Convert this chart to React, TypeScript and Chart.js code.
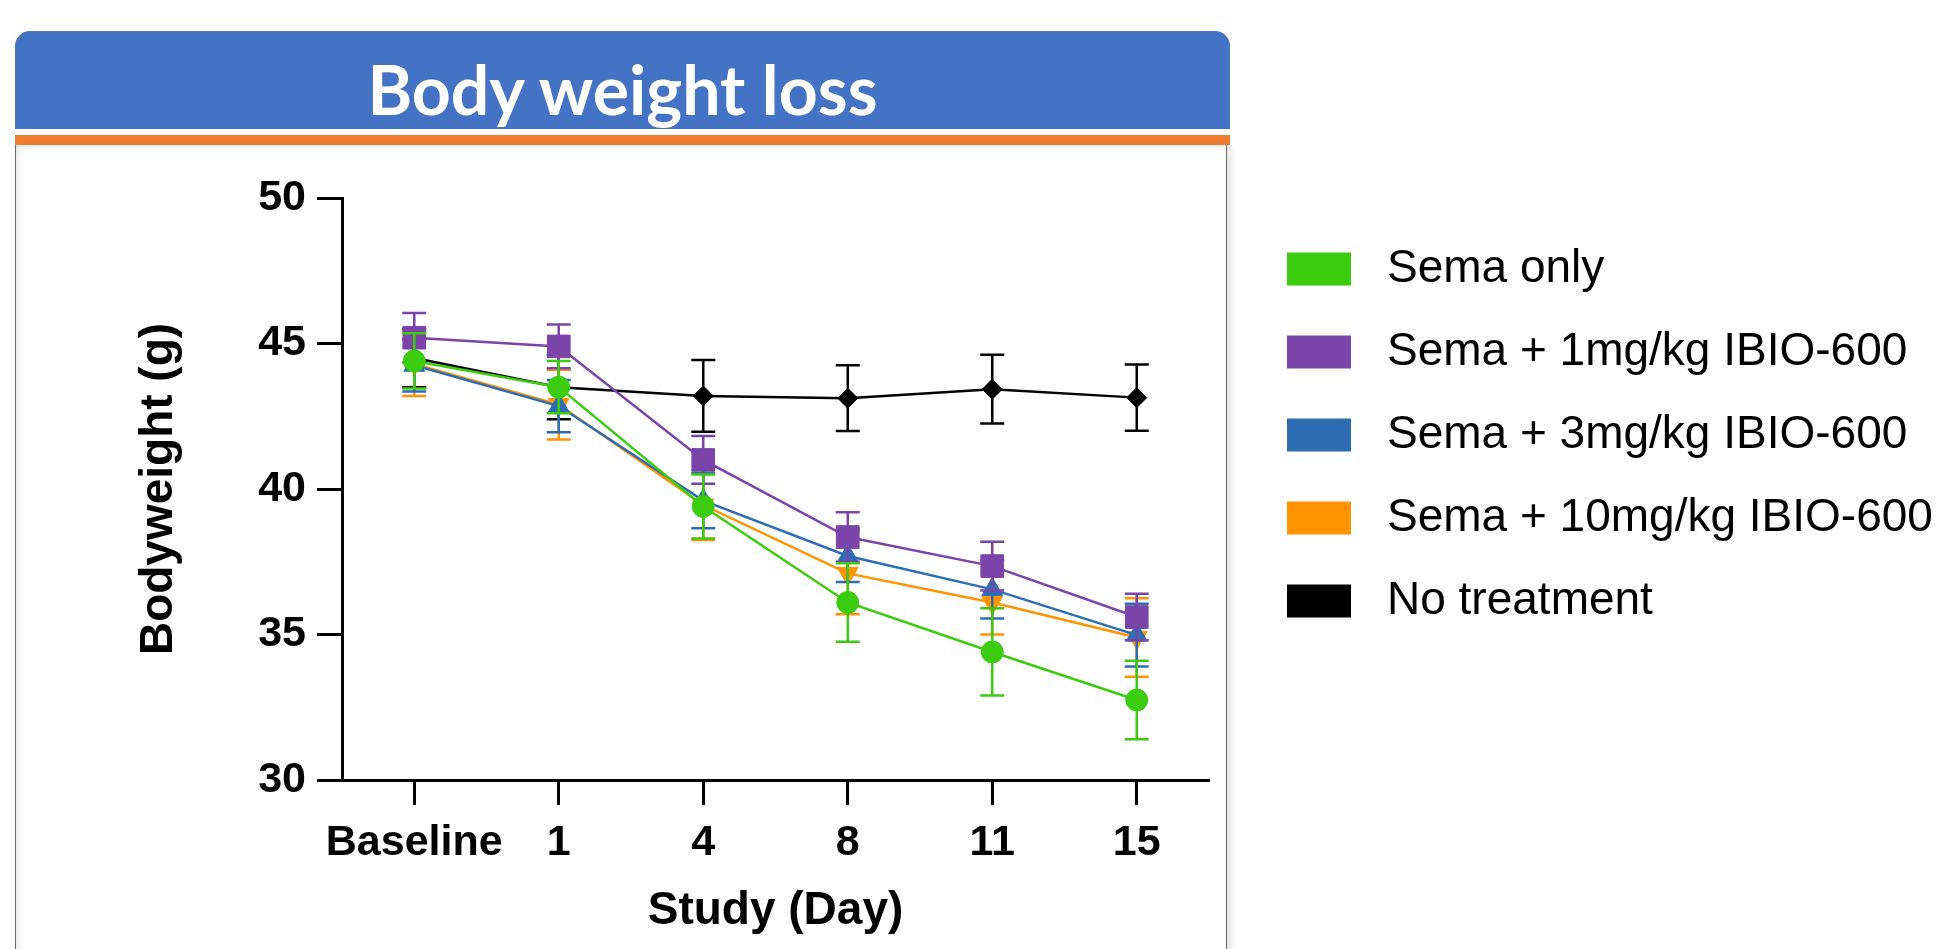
import React, { useEffect, useRef } from 'react';
import { Chart, registerables } from 'chart.js';

Chart.register(...registerables);

// ---- Data ----
const days = ['Baseline', '1', '4', '8', '11', '15'];
const seriesNames = [
  'Sema only',
  'Sema + 1mg/kg IBIO-600',
  'Sema + 3mg/kg IBIO-600',
  'Sema + 10mg/kg IBIO-600',
  'No treatment',
];
const semaOnly = [44.4, 43.5, 39.4, 36.1, 34.4, 32.75];
const semaOnlyErr = [0.95, 0.9, 1.1, 1.35, 1.5, 1.35];
const sema1 = [45.2, 44.9, 41.0, 38.35, 37.35, 35.6];
const sema1Err = [0.85, 0.75, 0.82, 0.85, 0.84, 0.8];
const sema3 = [44.25, 42.85, 39.6, 37.7, 36.55, 34.98];
const sema3Err = [0.9, 0.9, 0.95, 0.9, 1.0, 1.08];
const sema10 = [44.3, 42.9, 39.45, 37.1, 36.1, 34.9];
const sema10Err = [1.1, 1.2, 1.2, 1.4, 1.1, 1.35];
const noTreatment = [44.5, 43.5, 43.2, 43.12, 43.43, 43.14];
const noTreatmentErr = [1.0, 1.1, 1.23, 1.13, 1.18, 1.14];

const yMin = 30;
const yMax = 50;
const yStep = 5;

const chartTitle = 'Body weight loss';
const yTitle = 'Bodyweight (g)';
const xTitle = 'Study (Day)';

const seriesColors = ['#3BCC10', '#7A44A8', '#2E6DB4', '#FF9300', '#000000'];
const FONT = 'Liberation Sans, Arial, Helvetica, sans-serif';

const errorBarPlugin = {
  id: 'errorBars',
  beforeDatasetDraw(chart: any, args: any) {
    const ds = chart.data.datasets[args.index];
    const errs = ds.errors;
    if (!errs) return;
    const yScale = chart.scales.y;
    const ctx = chart.ctx;
    ctx.save();
    ctx.strokeStyle = ds.borderColor;
    ctx.lineWidth = 2.5;
    const cap = 12;
    args.meta.data.forEach((pt: any, i: number) => {
      const v = ds.data[i];
      const e = errs[i];
      const yTop = yScale.getPixelForValue(v + e);
      const yBot = yScale.getPixelForValue(v - e);
      ctx.beginPath();
      ctx.moveTo(pt.x, yTop);
      ctx.lineTo(pt.x, yBot);
      ctx.moveTo(pt.x - cap, yTop);
      ctx.lineTo(pt.x + cap, yTop);
      ctx.moveTo(pt.x - cap, yBot);
      ctx.lineTo(pt.x + cap, yBot);
      ctx.stroke();
    });
    ctx.restore();
  },
};

export default function App() {
  const canvasRef = useRef<HTMLCanvasElement | null>(null);

  useEffect(() => {
    if (!canvasRef.current) return;
    const values = [semaOnly, sema1, sema3, sema10, noTreatment];
    const errors = [semaOnlyErr, sema1Err, sema3Err, sema10Err, noTreatmentErr];
    const styles = ['circle', 'rect', 'triangle', 'triangle', 'rectRot'];
    const radii = [11, 16, 12, 12, 10];
    const rotations = [0, 0, 0, 180, 0];

    const datasets = seriesNames.map((name, i) => ({
      label: name,
      data: values[i],
      errors: errors[i],
      yAxisID: 'y',
      xAxisID: 'x',
      borderColor: seriesColors[i],
      backgroundColor: seriesColors[i],
      borderWidth: 2.5,
      pointStyle: styles[i],
      pointRadius: radii[i],
      pointRotation: rotations[i],
      pointBackgroundColor: seriesColors[i],
      pointBorderColor: seriesColors[i],
      pointBorderWidth: 1,
      tension: 0,
      fill: false,
    }));

    const chart = new Chart(canvasRef.current, {
      type: 'line',
      data: { labels: days, datasets: datasets as any },
      plugins: [errorBarPlugin as any],
      options: {
        responsive: false,
        animation: false,
        devicePixelRatio: 1,
        layout: { padding: { left: 0, top: 198, right: 7, bottom: 0 } },
        plugins: {
          tooltip: { enabled: false },
          title: { display: false },
          legend: {
            position: 'right',
            align: 'start',
            fullSize: false,
            maxWidth: 692,
            title: {
              display: true,
              text: '',
              padding: { top: 7.5, bottom: 0 },
              font: { size: 10, lineHeight: 1 },
            },
            labels: {
              boxWidth: 90,
              boxHeight: 59,
              padding: 24,
              color: '#000000',
              textAlign: 'left',
              font: { family: FONT, size: 46 },
              generateLabels: (c: any) =>
                c.data.datasets.map((ds: any, i: number) => ({
                  text: ds.label,
                  fillStyle: ds.borderColor,
                  strokeStyle: '#ffffff',
                  lineWidth: 26,
                  hidden: false,
                  datasetIndex: i,
                  fontColor: '#000000',
                })),
            },
          },
        },
        scales: {
          x: {
            type: 'category',
            offset: true,
            grid: {
              display: true,
              drawOnChartArea: false,
              drawTicks: true,
              tickLength: 25,
              tickWidth: 3,
              tickColor: '#000000',
              offset: false,
            },
            border: { display: true, color: '#000000', width: 3 },
            ticks: {
              color: '#000000',
              font: { family: FONT, size: 43, weight: 'bold' },
              padding: 12,
              maxRotation: 0,
              minRotation: 0,
              autoSkip: false,
            },
            title: {
              display: true,
              text: xTitle,
              color: '#000000',
              font: { family: FONT, size: 46, weight: 'bold' },
              padding: { top: 0, bottom: 10.4 },
            },
            afterFit: (s: any) => {
              s.height = 169;
            },
          },
          y: {
            type: 'linear',
            position: 'left',
            min: yMin,
            max: yMax,
            grid: {
              display: true,
              drawOnChartArea: false,
              drawTicks: true,
              tickLength: 25,
              tickWidth: 3,
              tickColor: '#000000',
            },
            border: { display: true, color: '#000000', width: 3 },
            ticks: {
              stepSize: yStep,
              color: '#000000',
              font: { family: FONT, size: 43, weight: 'bold' },
              padding: 11,
            },
            title: {
              display: true,
              text: yTitle,
              color: '#000000',
              font: { family: FONT, size: 46, weight: 'bold' },
              padding: { top: 131.4, bottom: 0 },
            },
            afterFit: (s: any) => {
              s.width = 342;
            },
          },
          yRight: {
            type: 'linear',
            position: 'right',
            display: true,
            grid: { display: false },
            border: { display: false },
            ticks: { display: false },
            afterFit: (s: any) => {
              s.width = 41;
            },
          },
        },
      } as any,
    });
    return () => chart.destroy();
  }, []);

  return (
    <div
      style={{
        position: 'absolute',
        left: 0,
        top: 0,
        width: 1949,
        height: 949,
        overflow: 'hidden',
        background: '#ffffff',
      }}
    >
      <div
        style={{
          position: 'absolute',
          left: 15,
          top: 31,
          width: 1215,
          height: 98,
          background: '#4472C4',
          borderRadius: '15px 15px 0 0',
        }}
      >
        <div
          style={{
            position: 'absolute',
            left: 0,
            right: 0,
            top: 24,
            textAlign: 'center',
            color: '#ffffff',
            fontFamily: 'Lato, sans-serif',
            fontWeight: 700,
            fontSize: 68,
            lineHeight: '68px',
            whiteSpace: 'nowrap',
          }}
        >
          {chartTitle}
        </div>
      </div>
      <div
        style={{
          position: 'absolute',
          left: 15,
          top: 135,
          width: 1215,
          height: 10,
          background: '#ED7D31',
        }}
      />
      <div
        style={{
          position: 'absolute',
          left: 15,
          top: 145,
          width: 1210,
          height: 820,
          borderLeft: '1.5px solid #6b6b6b',
          borderRight: '1.5px solid #6b6b6b',
          boxShadow:
            'inset 6px 6px 8px -5px rgba(0,0,0,0.12), 7px 0 8px -3px rgba(0,0,0,0.12)',
        }}
      />
      <canvas
        ref={canvasRef}
        width={1949}
        height={949}
        style={{ position: 'absolute', left: 0, top: 0, width: 1949, height: 949 }}
      />
    </div>
  );
}
